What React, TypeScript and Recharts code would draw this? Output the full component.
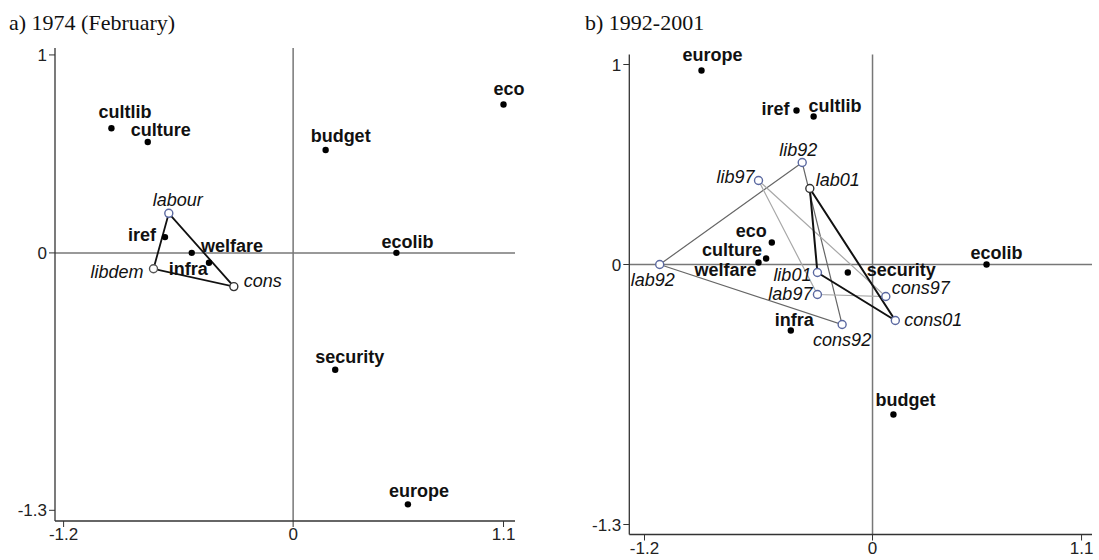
import { ReferenceLine, Scatter, ScatterChart, XAxis, YAxis } from "recharts";

type Pt = { name: string; x: number; y: number };
type Place = [number, number, "start" | "middle" | "end"];

// a) February 1974
const issues1974: Pt[] = [
  { name: "cultlib", x: -0.95, y: 0.63 },
  { name: "culture", x: -0.76, y: 0.56 },
  { name: "eco", x: 1.1, y: 0.75 },
  { name: "budget", x: 0.17, y: 0.52 },
  { name: "iref", x: -0.67, y: 0.08 },
  { name: "infra", x: -0.53, y: 0.0 },
  { name: "welfare", x: -0.44, y: -0.05 },
  { name: "ecolib", x: 0.54, y: 0.0 },
  { name: "security", x: 0.22, y: -0.59 },
  { name: "europe", x: 0.6, y: -1.27 }
];
const parties1974: Pt[] = [
  { name: "labour", x: -0.65, y: 0.2 },
  { name: "libdem", x: -0.73, y: -0.08 },
  { name: "cons", x: -0.31, y: -0.17 }
];

// b) 1992-2001
const issues9201: Pt[] = [
  { name: "europe", x: -0.9, y: 0.97 },
  { name: "iref", x: -0.4, y: 0.77 },
  { name: "cultlib", x: -0.31, y: 0.74 },
  { name: "eco", x: -0.53, y: 0.11 },
  { name: "culture", x: -0.56, y: 0.03 },
  { name: "welfare", x: -0.6, y: 0.01 },
  { name: "security", x: -0.13, y: -0.04 },
  { name: "ecolib", x: 0.6, y: 0.0 },
  { name: "infra", x: -0.43, y: -0.33 },
  { name: "budget", x: 0.11, y: -0.75 }
];
const parties1992: Pt[] = [
  { name: "lab92", x: -1.12, y: 0.0 },
  { name: "lib92", x: -0.37, y: 0.51 },
  { name: "cons92", x: -0.16, y: -0.3 }
];
const parties1997: Pt[] = [
  { name: "lab97", x: -0.29, y: -0.15 },
  { name: "lib97", x: -0.6, y: 0.42 },
  { name: "cons97", x: 0.07, y: -0.16 }
];
const parties2001: Pt[] = [
  { name: "lab01", x: -0.33, y: 0.38 },
  { name: "lib01", x: -0.29, y: -0.04 },
  { name: "cons01", x: 0.12, y: -0.28 }
];

const xTicks = [-1.2, 0, 1.1];
const yTicks = [-1.3, 0, 1];

// label offsets from the marker: dx, baseline dy, anchor
const placeA: Record<string, Place> = {
  cultlib: [-13, -10, "start"],
  culture: [-17, -6, "start"],
  eco: [-10, -9, "start"],
  budget: [-15, -8, "start"],
  iref: [-9, 4, "end"],
  infra: [-23, 22, "start"],
  welfare: [-8, -11, "start"],
  ecolib: [-15, -5, "start"],
  security: [-20, -7, "start"],
  europe: [-19, -7, "start"],
  labour: [-16, -7, "start"],
  libdem: [-10, 9, "end"],
  cons: [10, 0, "start"]
};
const placeB: Record<string, Place> = {
  europe: [-19, -10, "start"],
  iref: [-7, 4, "end"],
  cultlib: [-5, -5, "start"],
  eco: [-5, -6, "end"],
  culture: [-4, -3, "end"],
  welfare: [-2, 13, "end"],
  security: [19, 3, "start"],
  ecolib: [-16, -6, "start"],
  infra: [-16, -5, "start"],
  budget: [-18, -9, "start"],
  lab92: [-7, 21, "middle"],
  lib92: [-23, -7, "start"],
  cons92: [0, 21, "middle"],
  lab97: [-5, 5, "end"],
  lib97: [-4, 2, "end"],
  cons97: [6, -3, "start"],
  lab01: [6, -3, "start"],
  lib01: [-6, 8, "end"],
  cons01: [9, 5, "start"]
};
const ringColor: Record<string, string> = { lab01: "#333", cons: "#333", libdem: "#555" };

const sans = "'Liberation Sans', Arial, sans-serif";
const axisLine = { stroke: "#333", strokeWidth: 1.3 };
const tickStyle = { fontSize: 17, fill: "#222", fontFamily: sans };

function marker(place: Record<string, Place>, hollow: boolean) {
  return (props: any) => {
    const { cx, cy, payload } = props;
    const [dx, dy, anchor] = place[payload.name] ?? [6, 4, "start"];
    return (
      <g>
        {hollow ? (
          <circle cx={cx} cy={cy} r={4} fill="#fff" stroke={ringColor[payload.name] ?? "#5a68a0"} strokeWidth={1.4} />
        ) : (
          <circle cx={cx} cy={cy} r={3.2} fill="#000" />
        )}
        <text
          x={cx + dx}
          y={cy + dy}
          textAnchor={anchor}
          fontSize={18}
          fontWeight={hollow ? 400 : 700}
          fontStyle={hollow ? "italic" : "normal"}
          fill="#111"
          fontFamily={sans}
        >
          {payload.name}
        </text>
      </g>
    );
  };
}

const noDot = () => <g />;
const closed = (pts: Pt[]) => [...pts, pts[0]];

const titleStyle = {
  position: "absolute" as const,
  top: 11,
  fontFamily: "'Liberation Serif', 'Times New Roman', serif",
  fontSize: 22,
  lineHeight: "23px",
  color: "#111",
  whiteSpace: "nowrap" as const
};

export default function App() {
  return (
    <div style={{ position: "absolute", left: 0, top: 0, width: 1099, height: 560, background: "#fff", overflow: "hidden" }}>
      <div style={{ ...titleStyle, left: 9 }}>a) 1974 (February)</div>
      <div style={{ ...titleStyle, left: 585 }}>b) 1992-2001</div>

      <div style={{ position: "absolute", left: 0, top: 0 }}>
        <ScatterChart width={549} height={560} margin={{ top: 48, right: 34, bottom: 19, left: 5 }}>
          <XAxis type="number" dataKey="x" domain={[-1.245, 1.16]} ticks={xTicks} interval={0}
            tickFormatter={(v) => String(v)} axisLine={axisLine} tickLine={{ stroke: "#333" }}
            tickSize={6} tickMargin={1} tick={tickStyle} height={20} />
          <YAxis type="number" dataKey="y" domain={[-1.354, 1.035]} ticks={yTicks} interval={0}
            tickFormatter={(v) => String(v)} axisLine={axisLine} tickLine={{ stroke: "#333" }}
            tickSize={6} tickMargin={2} tick={tickStyle} width={50} />
          <ReferenceLine x={0} stroke="#777" strokeWidth={1.5} />
          <ReferenceLine y={0} stroke="#777" strokeWidth={1.5} />
          <Scatter data={closed(parties1974)} line={{ stroke: "#111", strokeWidth: 1.8 }} lineType="joint"
            shape={noDot} isAnimationActive={false} />
          <Scatter data={issues1974} shape={marker(placeA, false)} isAnimationActive={false} />
          <Scatter data={parties1974} shape={marker(placeA, true)} isAnimationActive={false} />
        </ScatterChart>
      </div>

      <div style={{ position: "absolute", left: 549, top: 0 }}>
        <ScatterChart width={550} height={560} margin={{ top: 54.5, right: 7, bottom: 5.5, left: 30.3 }}>
          <XAxis type="number" dataKey="x" domain={[-1.28, 1.155]} ticks={xTicks} interval={0}
            tickFormatter={(v) => String(v)} axisLine={axisLine} tickLine={{ stroke: "#333" }}
            tickSize={6} tickMargin={1} tick={tickStyle} height={20} />
          <YAxis type="number" dataKey="y" domain={[-1.35, 1.05]} ticks={yTicks} interval={0}
            tickFormatter={(v) => String(v)} axisLine={axisLine} tickLine={{ stroke: "#333" }}
            tickSize={6} tickMargin={2} tick={tickStyle} width={50} />
          <ReferenceLine x={0} stroke="#777" strokeWidth={1.5} />
          <ReferenceLine y={0} stroke="#777" strokeWidth={1.5} />
          <Scatter data={closed(parties1992)} line={{ stroke: "#666", strokeWidth: 1.2 }} lineType="joint"
            shape={noDot} isAnimationActive={false} />
          <Scatter data={closed(parties1997)} line={{ stroke: "#a8a8a8", strokeWidth: 1.2 }} lineType="joint"
            shape={noDot} isAnimationActive={false} />
          <Scatter data={closed(parties2001)} line={{ stroke: "#111", strokeWidth: 2 }} lineType="joint"
            shape={noDot} isAnimationActive={false} />
          <Scatter data={issues9201} shape={marker(placeB, false)} isAnimationActive={false} />
          <Scatter data={[...parties1992, ...parties1997, ...parties2001]} shape={marker(placeB, true)}
            isAnimationActive={false} />
        </ScatterChart>
      </div>
    </div>
  );
}
